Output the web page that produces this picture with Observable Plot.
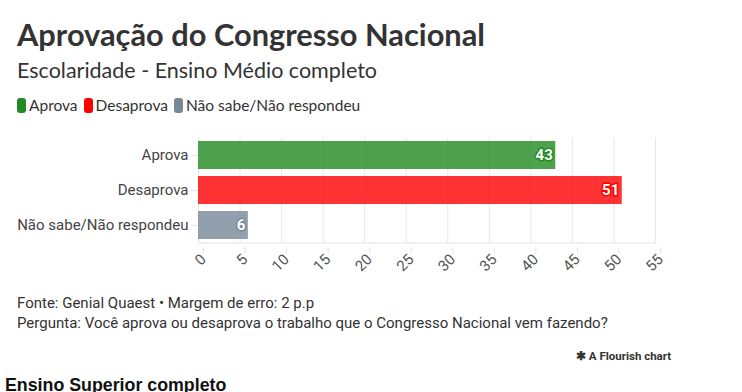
<!DOCTYPE html>
<html><head><meta charset="utf-8">
<script src="https://cdn.jsdelivr.net/npm/d3@7"></script>
<script src="https://cdn.jsdelivr.net/npm/@observablehq/plot@0.6"></script>
<style>
body{margin:0;background:#fff;width:742px;height:392px;overflow:hidden;position:relative;font-family:Lato,sans-serif;color:#333}
.abs{position:absolute;white-space:nowrap}
#title{left:17px;top:15px;font-size:30.8px;font-weight:700;color:#333;line-height:40px}
#sub{left:17px;top:56px;font-size:21.5px;color:#333;line-height:28px}
#legend{left:17px;top:95px;font-size:15.5px;line-height:20px;display:flex;gap:6px}
#legend span{display:inline-flex;align-items:center}
#legend i{display:inline-block;width:9px;height:15px;border-radius:3px;margin-right:3px}
#chart{left:0;top:127px}
.foot{left:17px;font-family:Roboto,sans-serif;font-size:15px;color:#333}
#flourish{left:576px;top:349px;font-family:Roboto,sans-serif;font-size:11.5px;font-weight:700;color:#333}
#next{left:5px;top:375px;font-family:"Liberation Sans",Arial,sans-serif;font-size:17.8px;font-weight:700;color:#111}
</style></head>
<body>
<div id="title" class="abs">Aprovação do Congresso Nacional</div>
<div id="sub" class="abs">Escolaridade - Ensino Médio completo</div>
<div id="legend" class="abs"></div>
<div id="chart" class="abs"></div>
<div class="abs foot" style="top:294px">Fonte: Genial Quaest • Margem de erro: 2 p.p</div>
<div class="abs foot" style="top:314px">Pergunta: Você aprova ou desaprova o trabalho que o Congresso Nacional vem fazendo?</div>
<div id="flourish" class="abs">✱ A Flourish chart</div>
<div id="next" class="abs">Ensino Superior completo</div>
<script>
const categories = ["Aprova", "Desaprova", "Não sabe/Não respondeu"];
const values = [43, 51, 6];
const colors = ["#228b22", "#ff0000", "#778899"];
const xTicks = [0, 5, 10, 15, 20, 25, 30, 35, 40, 45, 50, 55];

const data = categories.map((c, i) => ({cat: c, v: values[i], color: colors[i]}));

const leg = document.getElementById("legend");
categories.forEach((c, i) => {
  const s = document.createElement("span");
  s.innerHTML = `<i style="background:${colors[i]}"></i>${c}`;
  leg.appendChild(s);
});

const plot = Plot.plot({
  width: 742,
  height: 150,
  marginLeft: 198,
  marginRight: 87,
  marginTop: 10.5,
  marginBottom: 34.5,
  style: {fontFamily: "Roboto, sans-serif", fontSize: "15px", color: "#444", background: "transparent", overflow: "visible"},
  x: {domain: [0, 55], ticks: xTicks},
  y: {domain: categories, paddingInner: 0.2, paddingOuter: 0.1},
  marks: [
    Plot.gridX(xTicks, {stroke: "#e8e8e8", strokeOpacity: 1}),
    Plot.frame({anchor: "bottom", stroke: "#e3e3e3"}),
    Plot.barX(data, {x: "v", y: "cat", fill: "color", fillOpacity: 0.8}),
    Plot.text(data, {x: "v", y: "cat", text: d => String(d.v), textAnchor: "end", dx: -3, fill: "white", stroke: "color", strokeWidth: 3, fontWeight: 700, fontSize: 15}),
    Plot.axisX(xTicks, {tickRotate: -45, tickSize: 6, stroke: "#e3e3e3", fill: "#555", fontSize: 15, tickPadding: 3, dx: 5, dy: 5, label: null}),
    Plot.axisY({tickSize: 7, stroke: "#e8e8e8", fill: "#444", fontSize: 15, tickPadding: 3, label: null})
  ]
});
document.getElementById("chart").appendChild(plot);
</script>
</body></html>
